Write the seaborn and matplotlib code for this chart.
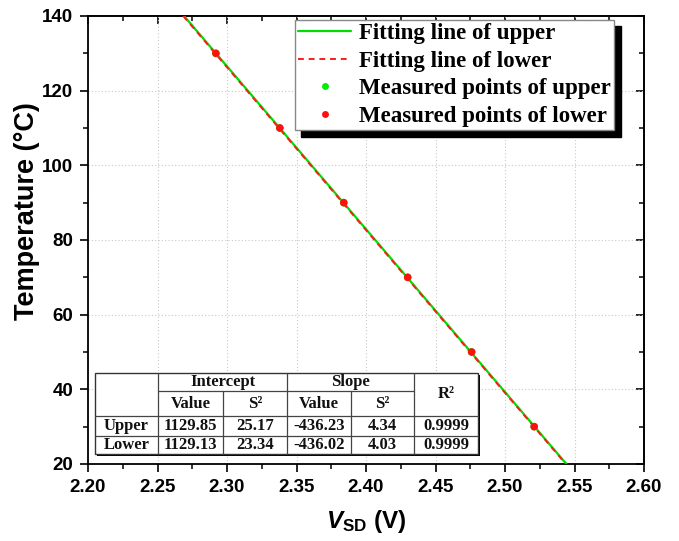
import numpy as np
import pandas as pd
import matplotlib
matplotlib.use("Agg")
import matplotlib.pyplot as plt
import seaborn as sns
from matplotlib.ticker import MultipleLocator, FormatStrFormatter
from matplotlib.patches import Rectangle
from matplotlib.lines import Line2D

# ---------------- data ----------------
temperature = [130, 110, 90, 70, 50, 30]
vsd_upper = [2.292, 2.338, 2.384, 2.430, 2.476, 2.521]
vsd_lower = [2.292, 2.338, 2.384, 2.430, 2.476, 2.521]

series_names = ["Upper", "Lower"]
intercept_values = [1129.85, 1129.13]
intercept_s2 = [25.17, 23.34]
slope_values = [-436.23, -436.02]
slope_s2 = [4.34, 4.03]
r_squared = [0.9999, 0.9999]
fit_temperature_range = [140, 20]

legend_labels = ["Fitting line of upper", "Fitting line of lower",
                 "Measured points of upper", "Measured points of lower"]

# ---------------- style ----------------
sns.set_theme(style="white")
plt.rcParams["font.family"] = ["Liberation Sans", "DejaVu Sans"]
plt.rcParams["font.weight"] = "bold"
plt.rcParams["text.color"] = "black"
plt.rcParams["axes.labelcolor"] = "black"
plt.rcParams["xtick.color"] = "black"
plt.rcParams["ytick.color"] = "black"
plt.rcParams["mathtext.fontset"] = "custom"
plt.rcParams["mathtext.it"] = "Liberation Sans:italic:bold"
plt.rcParams["mathtext.rm"] = "Liberation Sans:bold"
plt.rcParams["mathtext.bf"] = "Liberation Sans:bold"

W, H = 679, 541
fig = plt.figure(figsize=(W / 100, H / 100), dpi=100)
ax_l, ax_r, ax_t, ax_b = 88, 644, 16, 464
ax = fig.add_axes([ax_l / W, 1 - ax_b / H, (ax_r - ax_l) / W, (ax_b - ax_t) / H])

# fit lines from table parameters
fit_T = np.array(fit_temperature_range, dtype=float)
df_fit_u = pd.DataFrame({"V": (fit_T - intercept_values[0]) / slope_values[0], "T": fit_T})
df_fit_l = pd.DataFrame({"V": (fit_T - intercept_values[1]) / slope_values[1], "T": fit_T})
df_pts_u = pd.DataFrame({"V": vsd_upper, "T": temperature})
df_pts_l = pd.DataFrame({"V": vsd_lower, "T": temperature})

sns.lineplot(data=df_fit_u, x="V", y="T", ax=ax, color="#00dd00", lw=1.6,
             sort=False, zorder=3)
sns.lineplot(data=df_fit_l, x="V", y="T", ax=ax, color="#ff1a1a", lw=1.4,
             sort=False, zorder=4, linestyle=(0, (3, 2.5)))
sns.scatterplot(data=df_pts_u, x="V", y="T", ax=ax, color="#00ee00", s=30,
                edgecolor="none", zorder=5)
sns.scatterplot(data=df_pts_l, x="V", y="T", ax=ax, color="#ff1010", s=30,
                edgecolor="none", zorder=6)

ax.set_xlim(2.20, 2.60)
ax.set_ylim(20, 140)
ax.xaxis.set_major_locator(MultipleLocator(0.05))
ax.xaxis.set_minor_locator(MultipleLocator(0.025))
ax.xaxis.set_major_formatter(FormatStrFormatter("%.2f"))
ax.yaxis.set_major_locator(MultipleLocator(20))
ax.yaxis.set_minor_locator(MultipleLocator(10))

ax.grid(True, which="major", color="#c8c8c8", linestyle=(0, (1, 2)), lw=0.8)
ax.set_axisbelow(True)
for s in ax.spines.values():
    s.set_color("black")
    s.set_linewidth(1.3)

ax.tick_params(which="major", direction="out", length=5.5, width=1.2, colors="black",
               labelsize=13.5, pad=5, left=True, bottom=True)
ax.tick_params(which="minor", direction="out", length=3.5, width=1.1, colors="black",
               left=True, bottom=True)
for lab in ax.get_xticklabels() + ax.get_yticklabels():
    lab.set_fontweight("bold")

# inward ticks on top/right
top = ax.secondary_xaxis("top")
top.xaxis.set_major_locator(MultipleLocator(0.05))
top.xaxis.set_minor_locator(MultipleLocator(0.025))
top.tick_params(which="major", direction="in", length=6, width=1.2, labeltop=False)
top.tick_params(which="minor", direction="in", length=3.5, width=1.1)
top.spines["top"].set_linewidth(1.3)
right = ax.secondary_yaxis("right")
right.yaxis.set_major_locator(MultipleLocator(20))
right.yaxis.set_minor_locator(MultipleLocator(10))
right.tick_params(which="major", direction="in", length=6, width=1.2, labelright=False)
right.tick_params(which="minor", direction="in", length=3.5, width=1.1)
right.spines["right"].set_linewidth(1.3)

ax.set_xlabel(r"$V_{\mathrm{SD}}$ (V)", fontsize=17.5, fontweight="bold", labelpad=9)
ax.set_ylabel("Temperature (°C)", fontsize=19.5, fontweight="bold")
ax.yaxis.set_label_coords(-0.087, 0.565)

# legend
handles = [Line2D([], [], color="#00dd00", lw=1.6),
           Line2D([], [], color="#ff1a1a", lw=1.4, linestyle=(0, (3, 2.5))),
           Line2D([], [], color="#00ee00", marker="o", ms=5, lw=0, markeredgewidth=0),
           Line2D([], [], color="#ff1010", marker="o", ms=5, lw=0, markeredgewidth=0)]
leg = ax.legend(handles, legend_labels, loc="upper left",
                bbox_to_anchor=(295 / W, 1 - 20 / H), bbox_transform=fig.transFigure,
                borderaxespad=0, fancybox=False, framealpha=1, edgecolor="#888888",
                shadow={"ox": 4.5, "oy": -4.5, "color": "black", "alpha": 1},
                prop={"family": "Liberation Serif", "weight": "bold", "size": 16.5},
                handlelength=2.3, handletextpad=0.35, labelspacing=0.28,
                borderpad=0.15)
leg.get_frame().set_linewidth(1.0)
leg.set_zorder(10)

# table (drawn in axes fraction coordinates)
def fx(px):
    return (px - ax_l) / (ax_r - ax_l)

def fy(py):
    return (ax_b - py) / (ax_b - ax_t)

cols = [95, 158, 223, 287, 351, 414, 478]
rows = [373, 391, 416, 436, 454]
tf = ax.transAxes
ax.add_patch(Rectangle((fx(cols[0]) + 2 / 556, fy(rows[-1]) - 2 / 448),
                       fx(cols[-1]) - fx(cols[0]), fy(rows[0]) - fy(rows[-1]),
                       transform=tf, facecolor="black", edgecolor="none", zorder=7))
ax.add_patch(Rectangle((fx(cols[0]), fy(rows[-1])),
                       fx(cols[-1]) - fx(cols[0]), fy(rows[0]) - fy(rows[-1]),
                       transform=tf, facecolor="white", edgecolor="#333333", lw=1.0, zorder=8))

def seg(x0, y0, x1, y1):
    ax.add_line(Line2D([fx(x0), fx(x1)], [fy(y0), fy(y1)], transform=tf,
                       color="#444444", lw=0.9, zorder=9))

seg(cols[1], rows[1], cols[5], rows[1])
seg(cols[0], rows[2], cols[6], rows[2])
seg(cols[0], rows[3], cols[6], rows[3])
for c in (cols[1], cols[3], cols[5]):
    seg(c, rows[0], c, rows[4])
for c in (cols[2], cols[4]):
    seg(c, rows[1], c, rows[4])

tprops = dict(transform=tf, ha="center", va="center", zorder=10,
              fontfamily="Liberation Serif", fontweight="bold", fontsize=12,
              color="#111111")

def cell(text, c0, c1, r0, r1):
    ax.text((fx(cols[c0]) + fx(cols[c1])) / 2, (fy(rows[r0]) + fy(rows[r1])) / 2,
            text, **tprops)

cell("Intercept", 1, 3, 0, 1)
cell("Slope", 3, 5, 0, 1)
cell("R²", 5, 6, 0, 2)
cell("Value", 1, 2, 1, 2)
cell("S²", 2, 3, 1, 2)
cell("Value", 3, 4, 1, 2)
cell("S²", 4, 5, 1, 2)
for i, name in enumerate(series_names):
    r = 2 + i
    cell(name, 0, 1, r, r + 1)
    cell(f"{intercept_values[i]:.2f}", 1, 2, r, r + 1)
    cell(f"{intercept_s2[i]:.2f}", 2, 3, r, r + 1)
    cell(f"{slope_values[i]:.2f}", 3, 4, r, r + 1)
    cell(f"{slope_s2[i]:.2f}", 4, 5, r, r + 1)
    cell(f"{r_squared[i]:.4f}", 5, 6, r, r + 1)

fig.savefig("out.png", dpi=100, facecolor="white")
